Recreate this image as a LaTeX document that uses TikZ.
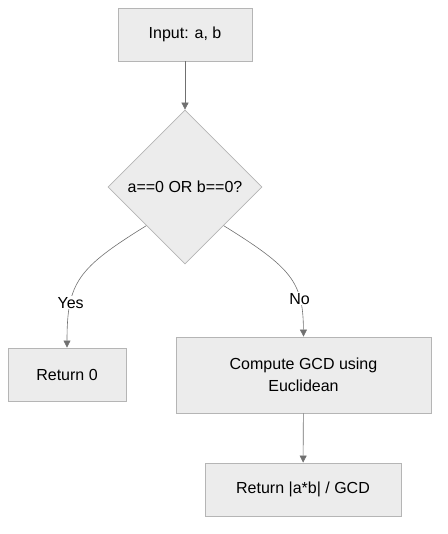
\documentclass[tikz,border=0pt]{standalone}
\usepackage{fontspec}
\setmainfont{Liberation Sans}
\usetikzlibrary{shapes.geometric,arrows.meta,calc}
\definecolor{boxfill}{HTML}{ECECEC}
\definecolor{boxline}{HTML}{B5B5B5}
\definecolor{edgecol}{HTML}{707070}
\tikzset{
  box/.style={draw=boxline, fill=boxfill, line width=0.9pt, inner sep=0pt, font=\fontsize{16}{22}\selectfont, align=center},
  dia/.style={diamond, draw=boxline, fill=boxfill, line width=0.7pt, inner sep=0pt, minimum width=154pt, minimum height=154pt, font=\fontsize{16}{20}\selectfont},
  edge/.style={draw=edgecol, line width=0.6pt, -{Triangle[length=7pt,width=7pt]}},
  lbl/.style={fill=white, inner sep=1pt, font=\fontsize{16}{20}\selectfont}
}
\begin{document}
\begin{tikzpicture}[x=1pt,y=-1pt]
\useasboundingbox (0,0) rectangle (447,534);
\node[box, minimum width=134pt, minimum height=53pt] (inp) at (185,34.5) {Input: a, b};
\node[dia] (d) at (185,187) {a==0 OR b==0?};
\node[box, minimum width=118pt, minimum height=53pt] (r0) at (67,374.5) {Return 0};
\node[box, minimum width=255pt, minimum height=76pt] (gcd) at (303.5,375) {Compute GCD using\\Euclidean};
\node[box, minimum width=196pt, minimum height=53pt] (res) at (303,489.5) {Return |a*b| / GCD};
\coordinate (dl) at ($(d.west)!0.5!(d.south)$);
\coordinate (dr) at ($(d.east)!0.5!(d.south)$);
\draw[edge] (dl) .. controls (78,268) and (67,282) .. (r0.north) node[lbl, pos=0.72] {Yes};
\draw[edge] (dr) .. controls (292,268) and (303,282) .. (gcd.north) node[lbl, pos=0.72] {No};
\draw[edge] (inp) -- (d);
\draw[edge] (gcd) -- (res);
\end{tikzpicture}
\end{document}
